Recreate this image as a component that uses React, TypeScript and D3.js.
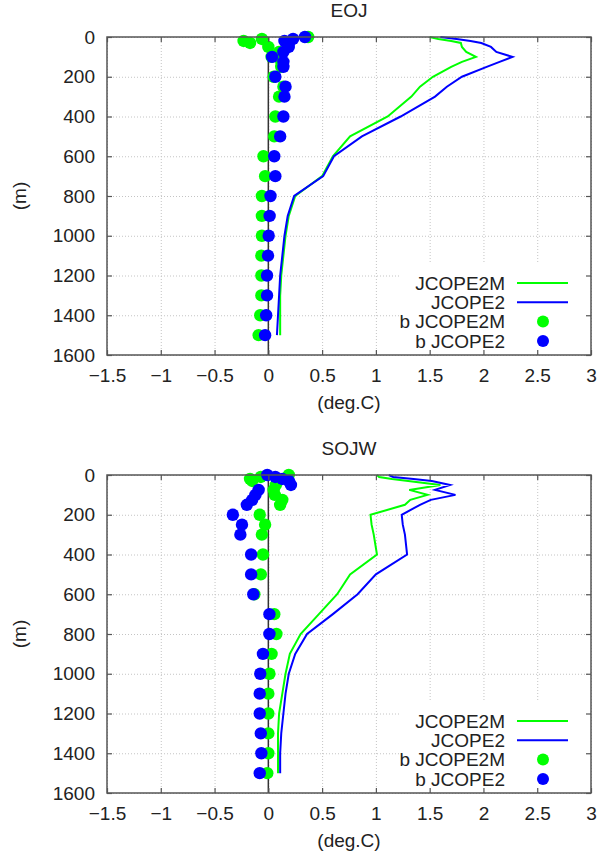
import React, { useRef, useEffect } from 'react';
import * as d3 from 'd3';

// depth levels (m) shared by every profile
const depths = [0, 10, 20, 30, 50, 75, 100, 125, 150, 200, 250, 300, 400, 500, 600, 700, 800, 900, 1000, 1100, 1200, 1300, 1400, 1500];

// EOJ
const eojJcope2m = [1.50, 1.58, 1.70, 1.79, 1.80, 1.84, 1.93, 1.80, 1.70, 1.53, 1.41, 1.33, 1.11, 0.76, 0.60, 0.50, 0.25, 0.19, 0.16, 0.14, 0.12, 0.11, 0.11, 0.11];
const eojJcope2 = [1.60, 1.75, 1.88, 1.98, 2.07, 2.12, 2.27, 2.15, 2.03, 1.80, 1.66, 1.55, 1.23, 0.87, 0.61, 0.51, 0.24, 0.18, 0.15, 0.13, 0.11, 0.10, 0.09, 0.08];
const eojBJcope2m = [0.37, -0.06, -0.23, -0.17, 0.0, 0.10, 0.03, 0.12, 0.12, 0.05, 0.14, 0.10, 0.065, 0.055, -0.045, -0.03, -0.06, -0.06, -0.06, -0.065, -0.065, -0.065, -0.075, -0.09];
const eojBJcope2 = [0.34, 0.23, 0.15, 0.19, 0.19, 0.14, 0.035, 0.14, 0.14, 0.065, 0.16, 0.15, 0.14, 0.11, 0.055, 0.065, 0.02, 0.012, 0.003, -0.003, -0.012, -0.012, -0.02, -0.03];

// SOJW
const sojwJcope2m = [1.01, 1.03, 1.15, 1.30, 1.60, 1.31, 1.48, 1.32, 1.27, 0.95, 0.96, 0.98, 1.01, 0.76, 0.64, 0.47, 0.30, 0.20, 0.16, 0.13, 0.10, 0.09, 0.09, 0.09];
const sojwJcope2 = [1.12, 1.16, 1.35, 1.52, 1.69, 1.55, 1.74, 1.51, 1.41, 1.24, 1.25, 1.27, 1.29, 1.00, 0.83, 0.60, 0.36, 0.25, 0.19, 0.16, 0.14, 0.12, 0.11, 0.11];
const sojwBJcope2m = [0.19, -0.07, -0.17, -0.15, 0.07, 0.05, 0.06, 0.13, 0.11, -0.08, -0.03, -0.06, -0.05, -0.07, -0.13, 0.055, 0.075, 0.03, 0.01, 0.0, 0.0, 0.0, 0.0, -0.01];
const sojwBJcope2 = [-0.01, 0.065, 0.13, 0.19, 0.21, -0.09, -0.12, -0.15, -0.2, -0.33, -0.245, -0.26, -0.16, -0.16, -0.14, 0.01, 0.01, -0.05, -0.075, -0.08, -0.08, -0.07, -0.065, -0.08];

const xTicks = [-1.5, -1, -0.5, 0, 0.5, 1, 1.5, 2, 2.5, 3];
const yTicks = [0, 200, 400, 600, 800, 1000, 1200, 1400, 1600];
const legendNames = ['JCOPE2M', 'JCOPE2', 'b JCOPE2M', 'b JCOPE2'];

const GREEN = '#00ff00';
const BLUE = '#0000ff';
const FONT = '"Liberation Sans", Arial, Helvetica, sans-serif';
const FS = '19px';

const panels = [
  { title: 'EOJ', top: 37, m: eojJcope2m, c: eojJcope2, bm: eojBJcope2m, bc: eojBJcope2 },
  { title: 'SOJW', top: 475, m: sojwJcope2m, c: sojwJcope2, bm: sojwBJcope2m, bc: sojwBJcope2 },
];

const App = () => {
  const ref = useRef<SVGSVGElement>(null);

  useEffect(() => {
    const svg = d3.select(ref.current);
    svg.selectAll('*').remove();

    const left = 107;
    const right = 591;
    const h = 318;

    panels.forEach(p => {
      const top = p.top;
      const bottom = top + h;
      const x = d3.scaleLinear().domain([-1.5, 3]).range([left, right]);
      const y = d3.scaleLinear().domain([0, 1600]).range([top, bottom]);
      const g = svg.append('g');

      //grid
      g.append('g')
        .attr('transform', `translate(0,${bottom})`)
        .call(d3.axisBottom(x).tickValues(xTicks).tickSize(-h).tickFormat(() => ''))
        .call(s => s.select('.domain').remove())
        .selectAll('line')
        .attr('stroke', '#c4c4c4')
        .attr('stroke-dasharray', '1,2');
      g.append('g')
        .attr('transform', `translate(${left},0)`)
        .call(d3.axisLeft(y).tickValues(yTicks).tickSize(-(right - left)).tickFormat(() => ''))
        .call(s => s.select('.domain').remove())
        .selectAll('line')
        .attr('stroke', '#c4c4c4')
        .attr('stroke-dasharray', '1,2');

      //opaque key box
      const row0 = top + 246;
      g.append('rect')
        .attr('x', 399)
        .attr('y', row0 - 19)
        .attr('width', right - 399 - 1)
        .attr('height', bottom - row0 + 18)
        .attr('fill', '#fff');

      //zero axis
      g.append('line')
        .attr('x1', x(0)).attr('x2', x(0))
        .attr('y1', top).attr('y2', bottom)
        .attr('stroke', '#333')
        .attr('stroke-width', 1.5);

      //profiles
      const line = d3.line<number>()
        .x(d => x(d))
        .y((d, i) => y(depths[i]));
      g.append('path').datum(p.m)
        .attr('d', line)
        .attr('fill', 'none')
        .attr('stroke', GREEN)
        .attr('stroke-width', 2);
      g.append('path').datum(p.c)
        .attr('d', line)
        .attr('fill', 'none')
        .attr('stroke', BLUE)
        .attr('stroke-width', 2);

      //points
      g.append('g').selectAll('circle')
        .data(p.bm)
        .join('circle')
        .attr('cx', d => x(d))
        .attr('cy', (d, i) => y(depths[i]))
        .attr('r', 6.2)
        .attr('fill', GREEN);
      g.append('g').selectAll('circle')
        .data(p.bc)
        .join('circle')
        .attr('cx', d => x(d))
        .attr('cy', (d, i) => y(depths[i]))
        .attr('r', 6.2)
        .attr('fill', BLUE);

      //axes with inward ticks
      const styleAxis = (s: any) => {
        s.select('.domain').remove();
        s.selectAll('line').attr('stroke', '#555').attr('stroke-width', 1.2);
        s.selectAll('text')
          .style('font-family', FONT)
          .style('font-size', FS)
          .attr('fill', '#222');
      };
      g.append('g')
        .attr('transform', `translate(0,${bottom})`)
        .call(d3.axisBottom(x).tickValues(xTicks).tickSize(-5).tickPadding(14).tickFormat(d3.format('')))
        .call(styleAxis);
      g.append('g')
        .attr('transform', `translate(0,${top})`)
        .call(d3.axisTop(x).tickValues(xTicks).tickSize(-5).tickFormat(() => ''))
        .call(styleAxis);
      g.append('g')
        .attr('transform', `translate(${left},0)`)
        .call(d3.axisLeft(y).tickValues(yTicks).tickSize(-5).tickPadding(12).tickFormat(d3.format('d')))
        .call(styleAxis);
      g.append('g')
        .attr('transform', `translate(${right},0)`)
        .call(d3.axisRight(y).tickValues(yTicks).tickSize(-5).tickFormat(() => ''))
        .call(styleAxis);

      //border
      g.append('rect')
        .attr('x', left).attr('y', top)
        .attr('width', right - left).attr('height', h)
        .attr('fill', 'none')
        .attr('stroke', '#555')
        .attr('stroke-width', 1.5);

      //legend
      const leg = g.append('g').style('font-family', FONT).style('font-size', FS);
      legendNames.forEach((name, i) => {
        const ry = row0 + i * 19.3;
        leg.append('text')
          .attr('x', 505)
          .attr('y', ry)
          .attr('dy', '0.36em')
          .attr('text-anchor', 'end')
          .attr('fill', '#222')
          .text(name);
        const col = i % 2 === 0 ? GREEN : BLUE;
        if (i < 2) {
          leg.append('line')
            .attr('x1', 517).attr('x2', 568)
            .attr('y1', ry).attr('y2', ry)
            .attr('stroke', col)
            .attr('stroke-width', 2);
        } else {
          leg.append('circle')
            .attr('cx', 543).attr('cy', ry)
            .attr('r', 6)
            .attr('fill', col);
        }
      });

      //titles
      svg.append('text')
        .attr('x', 349)
        .attr('y', top - 20.5)
        .attr('text-anchor', 'middle')
        .style('font-family', FONT)
        .style('font-size', FS)
        .attr('fill', '#222')
        .text(p.title);
      svg.append('text')
        .attr('x', 349)
        .attr('y', bottom + 54)
        .attr('text-anchor', 'middle')
        .style('font-family', FONT)
        .style('font-size', FS)
        .attr('fill', '#222')
        .text('(deg.C)');
      svg.append('text')
        .attr('transform', `translate(19,${top + h / 2}) rotate(-90)`)
        .attr('text-anchor', 'middle')
        .attr('dy', '0.35em')
        .style('font-family', FONT)
        .style('font-size', FS)
        .attr('fill', '#222')
        .text('(m)');
    });
  }, []);

  return (
    <svg
      ref={ref}
      width={600}
      height={857}
      style={{ position: 'absolute', left: 0, top: 0, background: '#fff' }}
    />
  );
};

export default App;
